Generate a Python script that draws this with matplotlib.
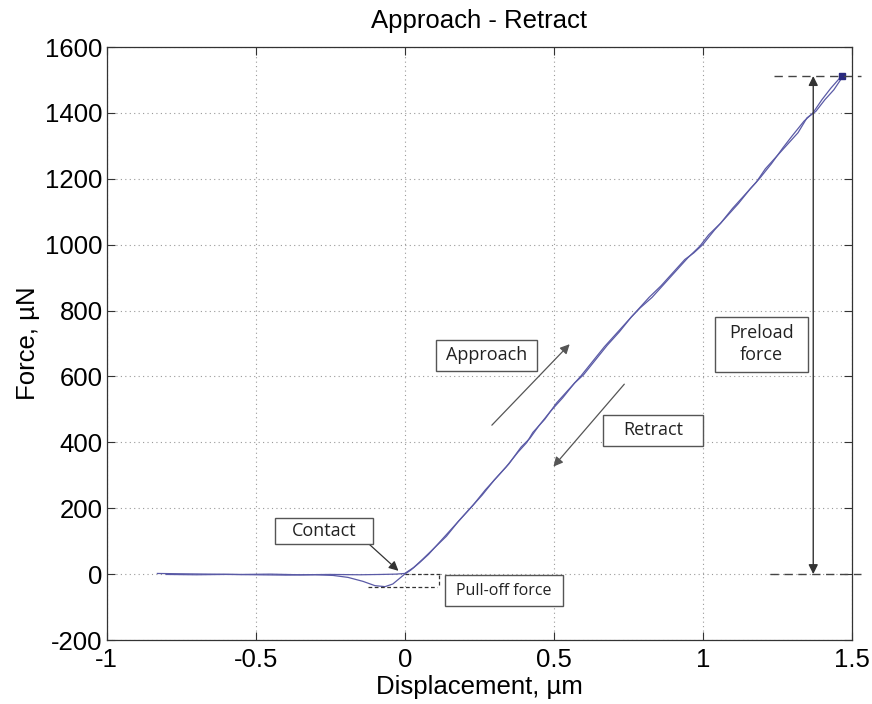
import matplotlib
matplotlib.use("Agg")
import matplotlib.pyplot as plt
from matplotlib.patches import Rectangle

# approach branch (displacement in um, force in uN)
approach_x = [-0.83, -0.75, -0.65, -0.55, -0.45, -0.35, -0.25, -0.15, -0.08, -0.03,
              0.0, 0.03, 0.06, 0.10, 0.14, 0.18, 0.22, 0.26, 0.30, 0.34,
              0.38, 0.41, 0.43, 0.47, 0.51, 0.55, 0.59, 0.63, 0.67, 0.71,
              0.75, 0.78, 0.82, 0.86, 0.90, 0.94, 0.97, 1.00, 1.04, 1.08,
              1.12, 1.16, 1.19, 1.23, 1.27, 1.30, 1.34, 1.37, 1.40, 1.43, 1.466]
approach_y = [2, 1, 0, -1, 0, -2, -1, -2, -1, 0,
              2, 20, 45, 80, 115, 160, 200, 240, 285, 325,
              370, 400, 430, 470, 520, 560, 600, 645, 690, 730,
              770, 800, 840, 875, 915, 955, 975, 1000, 1045, 1085,
              1125, 1170, 1200, 1245, 1295, 1330, 1375, 1400, 1440, 1475, 1512]

# retract branch
retract_x = [1.466, 1.44, 1.41, 1.38, 1.35, 1.32, 1.28, 1.24, 1.21, 1.18,
             1.14, 1.10, 1.06, 1.02, 0.99, 0.95, 0.91, 0.87, 0.83, 0.79,
             0.76, 0.72, 0.68, 0.64, 0.60, 0.57, 0.53, 0.49, 0.45, 0.42,
             0.39, 0.35, 0.31, 0.27, 0.23, 0.20, 0.16, 0.12, 0.08, 0.05,
             0.02, 0.0, -0.02, -0.04, -0.066, -0.10, -0.14, -0.19, -0.24, -0.30,
             -0.40, -0.50, -0.60, -0.70, -0.80]
retract_y = [1505, 1470, 1440, 1405, 1385, 1340, 1300, 1260, 1230, 1190,
             1150, 1110, 1065, 1030, 995, 960, 920, 880, 840, 808,
             780, 735, 695, 650, 605, 580, 535, 495, 450, 412,
             385, 335, 295, 255, 210, 180, 140, 100, 60, 35,
             12, 0, -15, -30, -38, -35, -22, -10, -4, -2,
             -3, -2, -1, -2, -1]

preload = 1512
pulloff = -38

xticks = [-1, -0.5, 0, 0.5, 1, 1.5]
xticklabels = ["-1", "-0.5", "0", "0.5", "1", "1.5"]
yticks = [-200, 0, 200, 400, 600, 800, 1000, 1200, 1400, 1600]

plt.rcParams["font.family"] = ["Liberation Sans", "DejaVu Sans"]
plt.rcParams["axes.unicode_minus"] = False

fig = plt.figure(figsize=(8.72, 7.04), dpi=100)
ax = fig.add_axes([0.1224, 0.0909, 0.8543, 0.8423])

line_color = "#5a5aa6"
ax.plot(approach_x, approach_y, color=line_color, lw=0.9)
ax.plot(retract_x, retract_y, color=line_color, lw=0.9)
ax.plot([approach_x[-1]], [approach_y[-1]], "s", color="#2a2a80", ms=4)

ax.set_xlim(-1, 1.5)
ax.set_ylim(-200, 1600)
ax.set_xticks(xticks)
ax.set_xticklabels(xticklabels)
ax.set_yticks(yticks)
ax.grid(True, color="#999999", linestyle=(0, (1, 3)), lw=0.8)
ax.tick_params(direction="in", top=True, right=True, length=6,
               labelsize=18.5, color="#333333")
ax.tick_params(axis="x", pad=6)
ax.tick_params(axis="y", pad=3)
for s in ax.spines.values():
    s.set_color("#333333")
    s.set_linewidth(0.9)

ax.set_title("Approach - Retract", fontsize=18.5, pad=14)
ax.set_xlabel("Displacement, µm", fontsize=18.5, labelpad=2)
ax.set_ylabel("Force, µN", fontsize=18.5, labelpad=4)


def label_box(cx, cy, w, h, text, size=13):
    ax.add_patch(Rectangle((cx - w / 2, cy - h / 2), w, h, fc="white",
                           ec="#555555", lw=1.0, zorder=4))
    ax.text(cx, cy, text, ha="center", va="center", zorder=5,
            family=["Open Sans", "DejaVu Sans"], fontsize=size,
            color="#222222", linespacing=1.3)


arrow = dict(arrowstyle="-|>", color="#555555", lw=0.9, mutation_scale=14)

# Approach / Retract arrows and labels
ax.annotate("", xy=(0.560, 704), xytext=(0.286, 446), arrowprops=arrow)
label_box(0.274, 664, 0.338, 93, "Approach")
ax.annotate("", xy=(0.493, 320), xytext=(0.743, 583), arrowprops=arrow)
label_box(0.833, 436, 0.338, 97, "Retract")

# Preload force
dash = dict(color="#444444", lw=1.0, linestyle=(0, (6, 4)), clip_on=False)
ax.plot([1.226, 1.532], [0, 0], **dash)
ax.plot([1.239, 1.532], [preload, preload], **dash)
ax.annotate("", xy=(1.371, preload), xytext=(1.371, 0),
            arrowprops=dict(arrowstyle="<|-|>", color="#333333", lw=1.0,
                            mutation_scale=14, shrinkA=0, shrinkB=0))
label_box(1.197, 698, 0.311, 167, "Preload\nforce")

# Contact and pull-off
ax.annotate("", xy=(-0.021, 10), xytext=(-0.128, 98),
            arrowprops=dict(arrowstyle="-|>", color="#333333", lw=0.9,
                            mutation_scale=14, shrinkA=0, shrinkB=0))
label_box(-0.270, 131, 0.330, 81, "Contact")
pdash = dict(color="#333333", lw=0.9, linestyle=(0, (3, 2)))
ax.plot([-0.123, 0.108], [pulloff, pulloff], **pdash)
ax.plot([0.0, 0.118], [0, 0], **pdash)
ax.plot([0.115, 0.115], [-2, pulloff], **pdash)
label_box(0.333, -50, 0.395, 94, "Pull-off force", size=11.5)

fig.savefig("out.png", dpi=100)
